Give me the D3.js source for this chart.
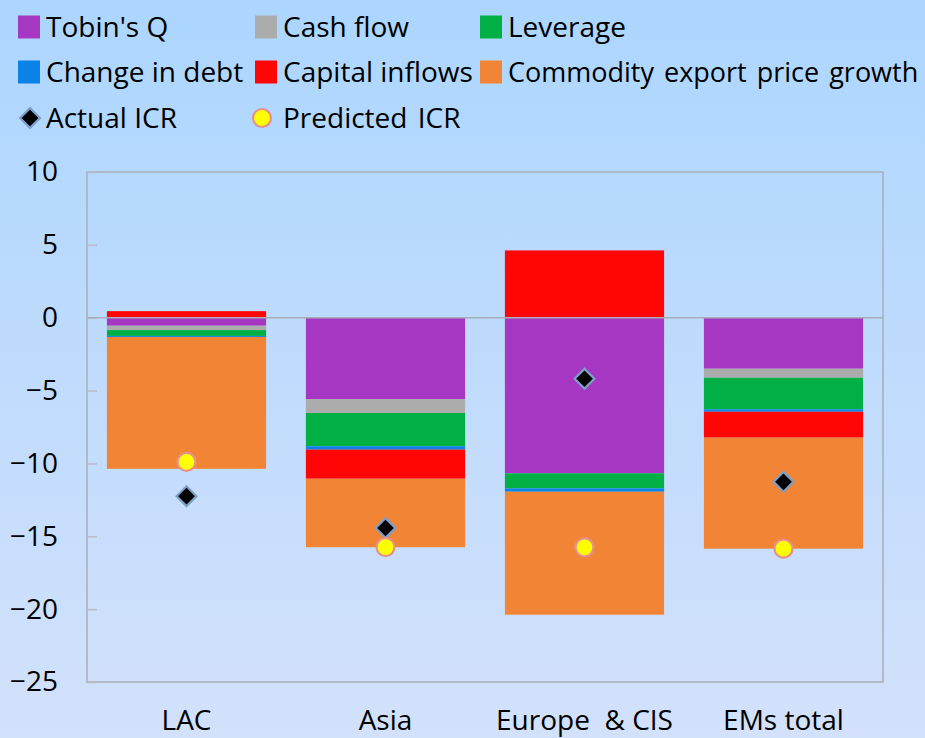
<!DOCTYPE html>
<html>
<head>
<meta charset="utf-8">
<script src="https://cdn.jsdelivr.net/npm/d3@7/dist/d3.min.js"></script>
<style>
  html, body { margin: 0; padding: 0; }
  body { width: 925px; height: 738px; overflow: hidden; }
  svg { display: block; font-family: "Open Sans", "DejaVu Sans", sans-serif; }
</style>
</head>
<body>
<svg id="chart" width="925" height="738"></svg>
<script>
// ---- data ----
const categories = ["LAC", "Asia", "Europe  & CIS", "EMs total"];
const seriesNames = ["Tobin's Q", "Cash flow", "Leverage", "Change in debt", "Capital inflows", "Commodity export price growth"];
const seriesColors = ["#a537c2", "#acacac", "#00b044", "#0a82e8", "#ff0505", "#f28535"];
const tobinsQ        = [-0.55, -5.58, -10.68, -3.50];
const cashFlow       = [-0.30, -0.96,   0.00, -0.62];
const leverage       = [-0.40, -2.28,  -1.03, -2.17];
const changeInDebt   = [-0.07, -0.23,  -0.23, -0.16];
const capitalInflows = [ 0.45, -2.00,   4.62, -1.78];
const commodityPrice = [-9.05, -4.70,  -8.44, -7.62];
const actualICR      = [-12.25, -14.43, -4.19, -11.26];
const predictedICR   = [-9.90, -15.74, -15.76, -15.85];
const yTicks = [10, 5, 0, -5, -10, -15, -20, -25];

const seriesValues = [tobinsQ, cashFlow, leverage, changeInDebt, capitalInflows, commodityPrice];

// ---- layout ----
const W = 925, H = 738;
const FS = 28;
const plot = { left: 87, right: 883, top: 172, bottom: 682 };
const svg = d3.select("#chart");

// background gradient
const defs = svg.append("defs");
const grad = defs.append("linearGradient").attr("id", "bg").attr("x1", 0).attr("y1", 0).attr("x2", 0).attr("y2", 1);
grad.append("stop").attr("offset", "0%").attr("stop-color", "#acd6ff");
grad.append("stop").attr("offset", "100%").attr("stop-color", "#d3e1fb");
svg.append("rect").attr("width", W).attr("height", H).attr("fill", "url(#bg)");

// scales
const x = d3.scaleBand().domain(categories).range([plot.left, plot.right]).paddingInner(0.2).paddingOuter(0.1);
const y = d3.scaleLinear().domain([-25, 10]).range([plot.bottom, plot.top]);

// table for stacking
const table = categories.map((c, i) => {
  const row = { cat: c };
  seriesNames.forEach((s, j) => row[s] = seriesValues[j][i]);
  return row;
});
const stack = d3.stack().keys(seriesNames).offset(d3.stackOffsetDiverging);
const stacked = stack(table);

// plot border
svg.append("rect")
  .attr("x", plot.left).attr("y", plot.top)
  .attr("width", plot.right - plot.left).attr("height", plot.bottom - plot.top)
  .attr("fill", "none").attr("stroke", "#a8aeb6").attr("stroke-width", 1.5);

// y axis
const yAxis = d3.axisLeft(y).tickValues(yTicks).tickFormat(d3.format("d")).tickSizeInner(-10).tickSizeOuter(0).tickPadding(29);
const gy = svg.append("g").attr("transform", `translate(${plot.left},0)`).call(yAxis);
gy.select(".domain").remove();
gy.selectAll(".tick line").attr("stroke", "#b8bcc4").attr("stroke-width", 1.5);
gy.selectAll(".tick text").attr("font-size", FS).attr("fill", "#000").attr("font-family", "Open Sans");

// bars
svg.append("g").selectAll("g")
  .data(stacked).join("g")
  .attr("fill", (d, i) => seriesColors[i])
  .selectAll("rect")
  .data(d => d).join("rect")
  .attr("x", d => x(d.data.cat))
  .attr("width", x.bandwidth())
  .attr("y", d => y(Math.max(d[0], d[1])))
  .attr("height", d => Math.abs(y(d[0]) - y(d[1])));

// zero line
svg.append("line")
  .attr("x1", plot.left).attr("x2", plot.right)
  .attr("y1", y(0)).attr("y2", y(0))
  .attr("stroke", "#a8aeb6").attr("stroke-width", 1.5);

// x axis labels
const xAxis = d3.axisBottom(x).tickSize(0).tickPadding(0);
const gx = svg.append("g").attr("transform", `translate(0,${plot.bottom})`).call(xAxis);
gx.select(".domain").remove();
gx.selectAll(".tick text").attr("font-size", FS).attr("fill", "#000").attr("font-family", "Open Sans")
  .attr("dy", 0).attr("y", 48).style("white-space", "pre");

// markers
function drawDiamond(g, cx, cy) {
  g.append("rect").attr("x", -7).attr("y", -7).attr("width", 14).attr("height", 14)
    .attr("transform", `translate(${cx},${cy}) rotate(45)`)
    .attr("fill", "#000").attr("stroke", "#7d9fc8").attr("stroke-width", 2.2);
}
function drawCircle(g, cx, cy) {
  g.append("circle").attr("cx", cx).attr("cy", cy).attr("r", 9)
    .attr("fill", "#ffff00").attr("stroke", "#e6908f").attr("stroke-width", 2.2);
}
const mg = svg.append("g");
categories.forEach((c, i) => {
  drawDiamond(mg, x(c) + x.bandwidth() / 2, y(actualICR[i]));
});
categories.forEach((c, i) => {
  drawCircle(mg, x(c) + x.bandwidth() / 2, y(predictedICR[i]));
});

// legend
const legendCols = [18, 255, 480];
const legendRows = [27, 72, 118];
const lg = svg.append("g").attr("font-size", FS).attr("fill", "#000");
seriesNames.forEach((s, i) => {
  const lx = legendCols[i % 3], ly = legendRows[Math.floor(i / 3)];
  lg.append("rect").attr("x", lx).attr("y", ly - 11.5).attr("width", 22).attr("height", 23).attr("fill", seriesColors[i]);
  const t = lg.append("text").attr("x", lx + 28).attr("y", ly + 10).text(s);
  if (i === 5) t.attr("font-size", 27).attr("word-spacing", 3);
});
drawDiamond(lg, 30, legendRows[2]);
lg.append("text").attr("x", 46).attr("y", legendRows[2] + 10).text("Actual ICR");
drawCircle(lg, 262, legendRows[2]);
lg.append("text").attr("x", 283).attr("y", legendRows[2] + 10).attr("word-spacing", 3).text("Predicted ICR");
</script>
</body>
</html>
